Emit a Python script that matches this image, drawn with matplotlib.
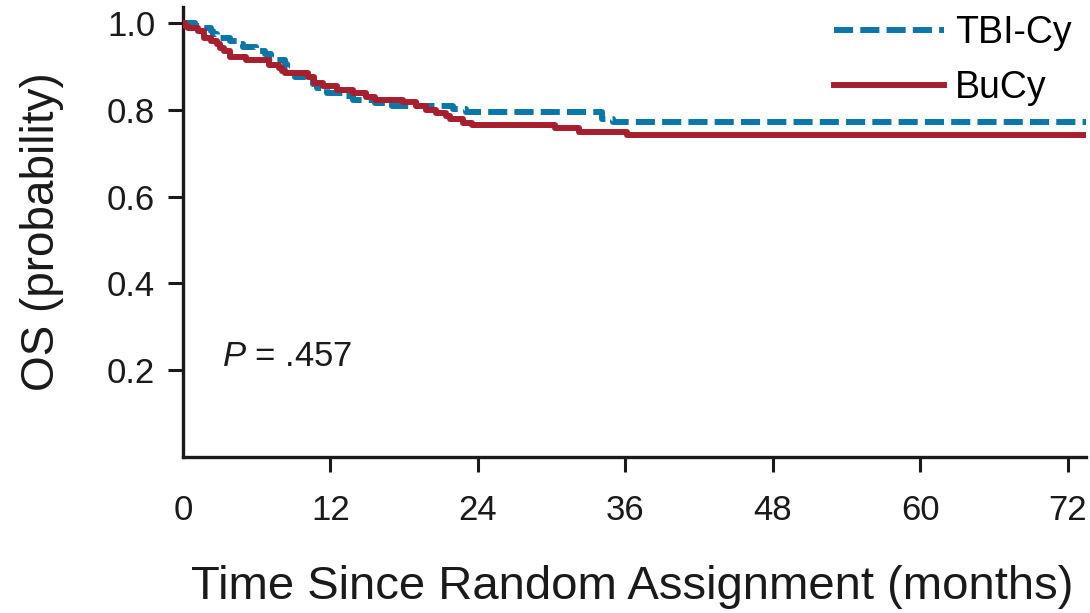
import matplotlib
matplotlib.use('Agg')
import matplotlib.pyplot as plt

# Kaplan-Meier estimates (months, OS probability)
tbi_time = [0, 0.98, 1.65, 2.25, 2.47, 2.74, 3.82, 4.37, 4.9, 5.94, 6.67, 7.2, 7.5,
            8.3, 8.5, 8.8, 9.1, 10.2, 10.6, 10.9, 11.7, 13.3, 13.8, 15.6, 17.0,
            22.0, 23.0, 34.1, 35.0, 73.5]
tbi_surv = [1.0, 0.995, 0.989, 0.982, 0.975, 0.967, 0.959, 0.952, 0.945, 0.936, 0.93,
            0.92, 0.916, 0.907, 0.895, 0.885, 0.876, 0.869, 0.86, 0.851, 0.840, 0.833,
            0.824, 0.817, 0.810, 0.802, 0.795, 0.779, 0.772, 0.772]

bucy_time = [0, 0.16, 0.43, 1.25, 1.73, 2.28, 2.74, 3.0, 3.3, 3.82, 5.13, 7.0, 7.84,
             8.06, 8.3, 10.2, 10.66, 11.4, 12.5, 13.8, 14.9, 15.6, 17.9, 19.0, 19.8,
             20.6, 21.4, 21.7, 22.8, 23.5, 30.3, 32.2, 36.1, 73.5]
bucy_surv = [1.0, 0.995, 0.989, 0.982, 0.967, 0.959, 0.952, 0.944, 0.936, 0.922, 0.915,
             0.905, 0.898, 0.89, 0.886, 0.876, 0.862, 0.855, 0.846, 0.839, 0.831, 0.824,
             0.818, 0.81, 0.801, 0.794, 0.786, 0.779, 0.771, 0.765, 0.759, 0.749, 0.742,
             0.742]

x_ticks = [0, 12, 24, 36, 48, 60, 72]
y_ticks = [0.2, 0.4, 0.6, 0.8, 1.0]

plt.rcParams['font.family'] = ['Liberation Sans', 'DejaVu Sans']
plt.rcParams['mathtext.fontset'] = 'custom'
plt.rcParams['mathtext.it'] = 'Liberation Sans:italic'
plt.rcParams['mathtext.rm'] = 'Liberation Sans'

blue = '#0a77a8'
red = '#a71f2f'
ink = '#1a1a1a'

fig = plt.figure(figsize=(10.9, 6.13), dpi=100)
ax = fig.add_axes([0.1679, 0.2553, 0.8284, 0.7333])

ax.step(tbi_time, tbi_surv, where='post', color=blue, lw=4.3,
        dashes=(3.2, 1.2), label='TBI-Cy', zorder=2)
ax.step(bucy_time, bucy_surv, where='post', color=red, lw=4.3,
        label='BuCy', zorder=3)

ax.set_xlim(0, 73.5)
ax.set_ylim(0, 1.038)
ax.set_xticks(x_ticks)
ax.set_xticklabels([str(t) for t in x_ticks])
ax.set_yticks(y_ticks)
ax.set_yticklabels(['%.1f' % t for t in y_ticks])
ax.xaxis.get_major_ticks()[0].tick1line.set_visible(False)

for s in ['top', 'right']:
    ax.spines[s].set_visible(False)
for s in ['left', 'bottom']:
    ax.spines[s].set_linewidth(2.4)
    ax.spines[s].set_color(ink)

ax.tick_params(axis='both', direction='out', length=11, width=2.2,
               color=ink, labelsize=25, labelcolor=ink)
ax.tick_params(axis='x', pad=16)
ax.tick_params(axis='y', pad=9)

ax.set_xlabel('Time Since Random Assignment (months)', fontsize=34, color=ink)
ax.xaxis.label.set_va('center')
ax.xaxis.set_label_coords(0.497, -0.29)
ax.set_ylabel('OS (probability)', fontsize=33, color=ink)
ax.yaxis.label.set_va('center')
ax.yaxis.set_label_coords(-0.156, 0.5)

ax.text(3.2, 0.23, '$P$ = .457', fontsize=25, va='center', color=ink)

ax.legend(loc='upper left', bbox_to_anchor=(0.721, 0.982), frameon=False,
          fontsize=27, handlelength=2.93, handletextpad=0.3,
          labelspacing=0.51, borderpad=0, borderaxespad=0)

fig.savefig('out.png', dpi=100)
